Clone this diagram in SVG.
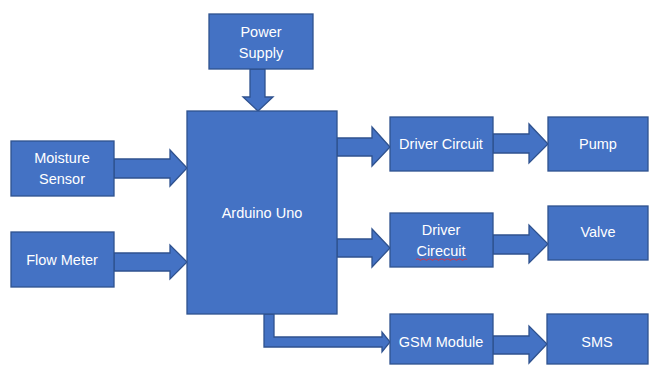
<svg xmlns="http://www.w3.org/2000/svg" width="650" height="365" viewBox="0 0 650 365">
<style>
.box{fill:#4472C4;stroke:#2F528F;stroke-width:1.3}
.arr{fill:#4472C4;stroke:#2F528F;stroke-width:1.3;stroke-linejoin:miter}
.t{fill:#ffffff;font-family:"Liberation Sans",Arial,sans-serif;font-size:14.5px;text-anchor:middle;dominant-baseline:central}
</style>
<rect width="650" height="365" fill="#ffffff"/>
<g id="connectors">
<polygon class="arr" points="250,69 265,69 265,97 273,97 258,111 243,97 250,97"/>
<polygon class="arr" points="114,159 170,159 170,150 187,168 170,186 170,178 114,178"/>
<polygon class="arr" points="114,253 170,253 170,245 187,262 170,279 170,271 114,271"/>
<polygon class="arr" points="337,138 372,138 372,127 390,147 372,166 372,156 337,156"/>
<polygon class="arr" points="493,134 529,134 529,124 548,144 529,163 529,153 493,153"/>
<polygon class="arr" points="337,239 372,239 372,229 390,248 372,267 372,257 337,257"/>
<polygon class="arr" points="493,235 529,235 529,225 548,244 529,263 529,254 493,254"/>
<polygon class="arr" points="264,314 274,314 274,337 382,337 382,332 390,342 382,352 382,347 264,347"/>
<polygon class="arr" points="493,336 529,336 529,326 547,344 529,363 529,354 493,354"/>
</g>
<g id="power-supply">
<rect class="box" x="209" y="14" width="104" height="55"/>
<text class="t" x="261" y="32">Power</text>
<text class="t" x="261" y="53">Supply</text>
</g>
<g id="arduino-uno">
<rect class="box" x="187" y="111" width="150" height="203"/>
<text class="t" x="262" y="213">Arduino Uno</text>
</g>
<g id="moisture-sensor">
<rect class="box" x="11" y="141" width="103" height="55"/>
<text class="t" x="62" y="158">Moisture</text>
<text class="t" x="62" y="179">Sensor</text>
</g>
<g id="flow-meter">
<rect class="box" x="11" y="232" width="103" height="55"/>
<text class="t" x="62" y="260">Flow Meter</text>
</g>
<g id="driver-circuit-1">
<rect class="box" x="390" y="117" width="103" height="54"/>
<text class="t" x="441" y="144">Driver Circuit</text>
</g>
<g id="pump">
<rect class="box" x="548" y="117" width="100" height="54"/>
<text class="t" x="598" y="144">Pump</text>
</g>
<g id="driver-circuit-2">
<rect class="box" x="390" y="213" width="103" height="54"/>
<text class="t" x="441" y="230">Driver</text>
<text class="t" x="441" y="251">Cirecuit</text>
<path d="M416,259.5 q1.5,-1.5 3,0 t3,0 t3,0 t3,0 t3,0 t3,0 t3,0 t3,0 t3,0 t3,0 t3,0 t3,0 t3,0 t3,0 t3,0 t3,0 t3,0" fill="none" stroke="#e0303a" stroke-width="0.9"/>
</g>
<g id="valve">
<rect class="box" x="548" y="206" width="100" height="54"/>
<text class="t" x="598" y="232">Valve</text>
</g>
<g id="gsm-module">
<rect class="box" x="390" y="314" width="103" height="50"/>
<text class="t" x="441" y="342">GSM Module</text>
</g>
<g id="sms">
<rect class="box" x="547" y="314" width="101" height="50"/>
<text class="t" x="597" y="342">SMS</text>
</g>
</svg>
